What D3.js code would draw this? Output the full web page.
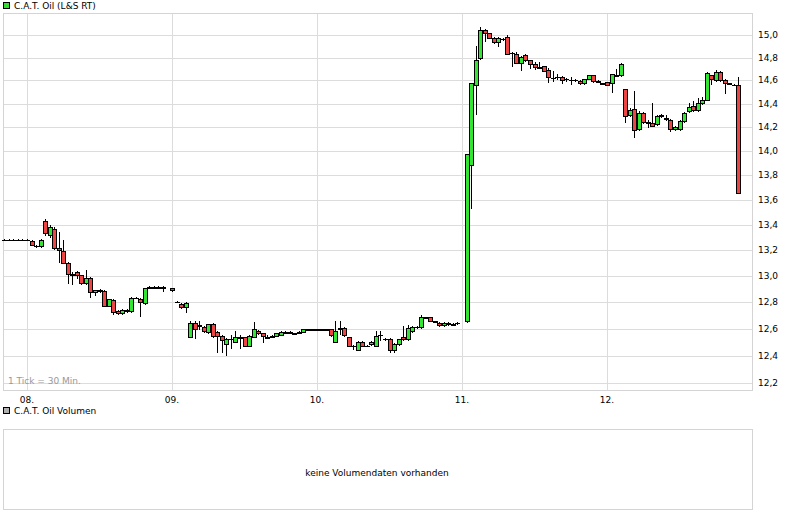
<!DOCTYPE html>
<html>
<head>
<meta charset="utf-8">
<script src="https://cdnjs.cloudflare.com/ajax/libs/d3/7.8.5/d3.min.js"></script>
<style>
  body { margin: 0; background: #fff; }
  text { font-family: "DejaVu Sans", Verdana, sans-serif; font-size: 9px; fill: #000; }
  .grid line { stroke: #dcdcdc; stroke-width: 1px; shape-rendering: crispEdges; }
  .frame { fill: none; stroke: #d4d4d4; shape-rendering: crispEdges; }
</style>
</head>
<body>
<svg width="792" height="526"></svg>
<script>
// half-hour slot index (32 slots per day, slot 0 = start of the 08.)
var slots = [-5,-4,-3,-2,-1,0,1,2,3,4,5,6,7,8,9,10,11,12,13,14,15,16,17,18,19,20,21,22,23,24,25,26,27,28,29,30,
  32,33,34,35,36,37,38,39,40,41,42,43,44,45,46,47,48,49,50,51,52,53,54,55,56,57,58,59,60,61,62,63,
  64,65,66,67,68,69,70,71,72,73,74,75,76,77,78,79,80,81,82,83,84,85,86,87,88,89,90,91,92,93,94,95,
  97,98,99,100,101,102,103,104,105,106,107,108,109,110,111,112,113,114,115,116,117,118,119,120,121,122,123,124,125,126,127,
  128,129,130,131,132,133,134,135,136,137,138,139,140,141,142,143,144,145,146,147,148,149,150,151,152,153,154,155,156,157];
var opens = [13.28,13.28,13.28,13.28,13.28,13.28,13.27,13.23,13.23,13.43,13.32,13.36,13.21,13.19,13.10,13.01,13.03,13.00,12.94,12.98,12.87,12.89,12.88,12.77,12.81,12.73,12.71,12.74,12.73,12.83,12.82,12.79,12.91,12.91,12.91,12.91,
  12.90,12.80,12.78,12.76,12.53,12.64,12.62,12.61,12.57,12.63,12.57,12.54,12.48,12.52,12.50,12.53,12.53,12.47,12.53,12.58,12.56,12.53,12.54,12.54,12.55,12.57,12.57,12.56,12.57,12.57,12.59,12.59,
  12.59,12.59,12.59,12.59,12.50,12.60,12.60,12.53,12.47,12.44,12.50,12.47,12.48,12.47,12.55,12.52,12.52,12.44,12.48,12.53,12.52,12.58,12.61,12.61,12.68,12.68,12.65,12.64,12.62,12.64,12.63,12.64,
  12.65,13.88,14.56,14.79,15.04,15.01,14.97,14.93,14.96,14.98,14.84,14.83,14.75,14.82,14.77,14.74,14.71,14.72,14.69,14.62,14.63,14.63,14.61,14.60,14.60,14.59,14.57,14.61,14.64,14.59,14.57,
  14.58,14.57,14.64,14.64,14.52,14.30,14.35,14.18,14.32,14.24,14.23,14.22,14.30,14.27,14.26,14.18,14.18,14.25,14.33,14.38,14.34,14.40,14.43,14.64,14.60,14.67,14.60,14.57,14.56,14.56];
var highs = [13.29,13.29,13.29,13.29,13.29,13.29,13.28,13.24,13.29,13.45,13.40,13.38,13.34,13.28,13.11,13.03,13.04,13.01,13.05,12.99,12.89,12.90,12.89,12.82,12.82,12.74,12.75,12.75,12.84,12.84,12.83,12.91,12.92,12.92,12.92,12.92,
  12.91,12.81,12.79,12.80,12.66,12.66,12.66,12.62,12.63,12.64,12.58,12.55,12.53,12.55,12.58,12.55,12.54,12.55,12.65,12.59,12.57,12.55,12.55,12.57,12.58,12.58,12.58,12.57,12.58,12.60,12.60,12.60,
  12.60,12.60,12.60,12.60,12.66,12.66,12.61,12.54,12.48,12.51,12.51,12.48,12.51,12.58,12.58,12.53,12.53,12.49,12.52,12.62,12.63,12.62,12.62,12.70,12.69,12.69,12.66,12.65,12.65,12.65,12.64,12.65,
  13.97,14.57,14.90,15.07,15.05,15.02,14.98,14.98,14.97,15.00,14.85,14.85,14.81,14.83,14.78,14.76,14.76,14.73,14.71,14.68,14.66,14.64,14.62,14.63,14.61,14.60,14.61,14.65,14.65,14.60,14.58,
  14.59,14.66,14.70,14.75,14.53,14.36,14.51,14.34,14.33,14.26,14.41,14.30,14.31,14.30,14.27,14.21,14.26,14.33,14.41,14.42,14.45,14.46,14.67,14.65,14.69,14.68,14.61,14.58,14.57,14.63];
var lows = [13.27,13.27,13.27,13.27,13.27,13.27,13.23,13.22,13.22,13.31,13.30,13.20,13.10,13.09,12.94,12.93,12.98,12.93,12.93,12.83,12.85,12.87,12.76,12.76,12.70,12.70,12.70,12.72,12.72,12.82,12.69,12.78,12.90,12.90,12.90,12.88,
  12.88,12.79,12.75,12.72,12.53,12.52,12.59,12.57,12.56,12.53,12.42,12.42,12.40,12.45,12.49,12.45,12.46,12.46,12.53,12.55,12.49,12.52,12.53,12.54,12.55,12.56,12.56,12.55,12.56,12.57,12.58,12.58,
  12.58,12.58,12.58,12.54,12.49,12.55,12.54,12.46,12.44,12.43,12.46,12.46,12.47,12.46,12.51,12.51,12.42,12.42,12.47,12.51,12.51,12.57,12.60,12.60,12.67,12.67,12.64,12.61,12.61,12.62,12.62,12.63,
  12.64,13.53,14.30,14.78,14.94,14.96,14.92,14.89,14.95,14.83,14.72,14.74,14.68,14.76,14.70,14.69,14.70,14.67,14.58,14.59,14.60,14.57,14.59,14.56,14.59,14.56,14.56,14.60,14.58,14.58,14.56,
  14.55,14.49,14.63,14.63,14.24,14.29,14.11,14.17,14.23,14.19,14.20,14.21,14.28,14.25,14.16,14.17,14.17,14.24,14.32,14.33,14.33,14.39,14.42,14.56,14.59,14.59,14.48,14.56,14.55,13.65];
var closes = [13.28,13.28,13.28,13.28,13.28,13.28,13.24,13.23,13.28,13.33,13.38,13.21,13.20,13.10,13.01,13.01,13.00,12.94,12.98,12.87,12.89,12.88,12.77,12.82,12.72,12.71,12.74,12.73,12.83,12.83,12.80,12.90,12.91,12.91,12.91,12.91,
  12.89,12.80,12.76,12.79,12.64,12.59,12.62,12.58,12.63,12.54,12.54,12.51,12.52,12.52,12.53,12.53,12.47,12.54,12.59,12.56,12.54,12.53,12.54,12.56,12.57,12.57,12.57,12.56,12.57,12.59,12.59,12.59,
  12.59,12.59,12.59,12.55,12.58,12.60,12.55,12.47,12.47,12.50,12.47,12.47,12.50,12.54,12.55,12.52,12.44,12.48,12.52,12.52,12.60,12.61,12.61,12.68,12.68,12.65,12.65,12.62,12.64,12.63,12.63,12.64,
  13.97,14.57,14.77,15.04,15.01,14.97,14.93,14.97,14.96,14.83,14.84,14.75,14.80,14.77,14.74,14.71,14.71,14.68,14.63,14.62,14.63,14.60,14.61,14.60,14.60,14.57,14.61,14.64,14.59,14.59,14.57,
  14.56,14.65,14.64,14.74,14.29,14.34,14.17,14.32,14.24,14.23,14.21,14.29,14.29,14.27,14.18,14.20,14.25,14.32,14.37,14.34,14.40,14.43,14.66,14.61,14.67,14.60,14.57,14.57,14.56,13.65];
var dayLabels = ["08.", "09.", "10.", "11.", "12."];
var priceTicks = [12.2,12.4,12.6,12.8,13.0,13.2,13.4,13.6,13.8,14.0,14.2,14.4,14.6,14.8,15.0];

var svg = d3.select("svg");
var plotLeft = 3, plotRight = 752, plotTop = 13, plotBottom = 390;
var slotsPerDay = 32;

var x = d3.scaleLinear().domain([0, slotsPerDay * 5]).range([27, plotRight]);
var y = d3.scaleLog().domain([12.149, 15.197]).range([plotBottom, plotTop]);
var fmt = function(v){ return d3.format(".1f")(v).replace(".", ","); };

// legend
svg.append("rect").attr("x", 3.5).attr("y", 2.5).attr("width", 6).attr("height", 6)
  .attr("fill", "#33dd33").attr("stroke", "#000");
svg.append("text").attr("x", 14).attr("y", 9).text("C.A.T. Oil (L&S RT)");

// grid
var grid = svg.append("g").attr("class", "grid");
grid.selectAll("line.h").data(priceTicks).enter().append("line")
  .attr("x1", plotLeft).attr("x2", plotRight)
  .attr("y1", function(d){ return Math.round(y(d)) + 0.5; })
  .attr("y2", function(d){ return Math.round(y(d)) + 0.5; });
grid.selectAll("line.v").data(dayLabels).enter().append("line")
  .attr("x1", function(d, i){ return Math.round(x(i * slotsPerDay)) + 0.5; })
  .attr("x2", function(d, i){ return Math.round(x(i * slotsPerDay)) + 0.5; })
  .attr("y1", plotTop).attr("y2", plotBottom);
svg.append("rect").attr("class", "frame")
  .attr("x", plotLeft + 0.5).attr("y", plotTop + 0.5)
  .attr("width", plotRight - plotLeft).attr("height", plotBottom - plotTop);

// y axis labels on the right
svg.selectAll("text.ylab").data(priceTicks).enter().append("text")
  .attr("x", 758).attr("y", function(d){ return y(d) + 3; }).text(fmt);

// day labels
svg.selectAll("text.day").data(dayLabels).enter().append("text")
  .attr("x", function(d, i){ return x(i * slotsPerDay); }).attr("y", 403)
  .attr("text-anchor", "middle").text(function(d){ return d; });

svg.append("text").attr("x", 8).attr("y", 384).style("fill", "#999")
  .text("1 Tick = 30 Min.");

// candles
var candles = slots.map(function(s, i){
  return { s: s, o: opens[i], h: highs[i], l: lows[i], c: closes[i] };
});
var cg = svg.append("g").attr("shape-rendering", "crispEdges");
var g = cg.selectAll("g").data(candles).enter().append("g");
g.append("line")
  .attr("x1", function(d){ return Math.round(x(d.s)) + 0.5; })
  .attr("x2", function(d){ return Math.round(x(d.s)) + 0.5; })
  .attr("y1", function(d){ return y(d.h); })
  .attr("y2", function(d){ return y(d.l); })
  .attr("stroke", "#000");
g.append("rect")
  .attr("x", function(d){ return Math.round(x(d.s)) - 1.5; })
  .attr("y", function(d){ return y(Math.max(d.o, d.c)); })
  .attr("width", 4)
  .attr("height", function(d){ return Math.max(0.5, y(Math.min(d.o, d.c)) - y(Math.max(d.o, d.c))); })
  .attr("fill", function(d){ return d.c > d.o ? "#33e633" : (d.c < d.o ? "#ee4444" : "#000"); })
  .attr("stroke", "#000");

// volume panel
svg.append("rect").attr("x", 3.5).attr("y", 407.5).attr("width", 6).attr("height", 6)
  .attr("fill", "#b0b0b0").attr("stroke", "#000");
svg.append("text").attr("x", 14).attr("y", 414).text("C.A.T. Oil Volumen");
svg.append("rect").attr("class", "frame")
  .attr("x", plotLeft + 0.5).attr("y", 429.5).attr("width", plotRight - plotLeft).attr("height", 80);
svg.append("text").attr("x", 377).attr("y", 476).attr("text-anchor", "middle")
  .text("keine Volumendaten vorhanden");
</script>
</body>
</html>
